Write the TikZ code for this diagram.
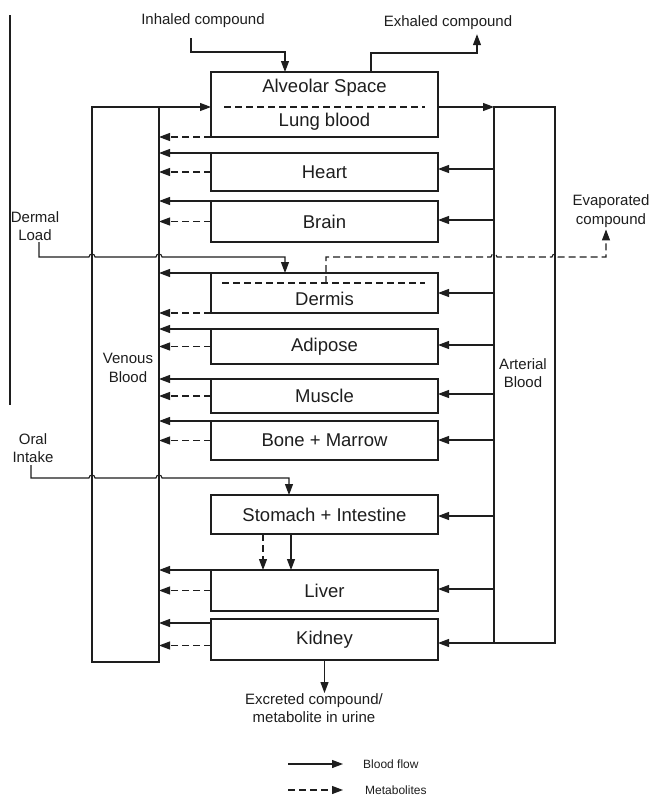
\documentclass[tikz,border=0pt]{standalone}
\usepackage{fontspec}
\setmainfont{Liberation Sans}
\usetikzlibrary{arrows.meta}
\begin{document}
\begin{tikzpicture}[x=1pt,y=-1pt,
  organ/.style={draw=ink, line width=1.1pt, rectangle, inner sep=0pt, outer sep=0pt, minimum width=227pt},
  blood/.style={draw=ink, line width=1.1pt, rectangle, inner sep=0pt, outer sep=0pt},
  otext/.style={font=\fontsize{18.5}{21}\selectfont, inner sep=0pt, text=ink},
  lbl/.style={font=\fontsize{15}{18.5}\selectfont, align=center, inner sep=0pt, text=ink},
  leg/.style={font=\fontsize{12}{14}\selectfont, inner sep=0pt, anchor=west, text=ink},
  ln/.style={draw=ink, line width=1.1pt},
  flow/.style={ln, -{Triangle[length=11pt,width=8pt]}},
  metab/.style={flow, dash pattern=on 7pt off 4pt},
  dashln/.style={ln, dash pattern=on 7pt off 4pt},
]
\definecolor{ink}{HTML}{1E1E1E}
\useasboundingbox (0,0) rectangle (655,798);
\fill[white] (0,0) rectangle (655,798);

% stray vertical line at left
\draw[ln] (10,15) -- (10,405);

% blood compartments
\node[blood, minimum width=67pt, minimum height=555pt] (venous) at (125.5,384.5) {};
\node[blood, minimum width=61pt, minimum height=536pt] (arterial) at (524.5,375) {};
\node[lbl] (vtxt) at (128,368) {Venous\\Blood};
\node[lbl] (atxt) at (523,373) {Arterial\\Blood};

% organs
\node[organ, minimum height=65pt] (alv) at (324.5,104.5) {};
\node[otext] (alvtxt) at (324.5,88) {Alveolar Space};
\node[otext] (lungtxt) at (324.5,122) {Lung blood};
\draw[dashln] (224,107) -- (425,107);

\node[organ, minimum height=38pt] (heart) at (324.5,172) {};
\node[otext] at (heart) {Heart};
\node[organ, minimum height=41pt] (brain) at (324.5,221.5) {};
\node[otext] at (brain) {Brain};
\node[organ, minimum height=40pt] (dermis) at (324.5,293) {};
\node[otext] (dermtxt) at (324.5,299) {Dermis};
\draw[dashln] (222,283) -- (425,283);
\node[organ, minimum height=35pt] (adipose) at (324.5,346.5) {};
\node[otext] at (adipose) {Adipose};
\node[organ, minimum height=34pt] (muscle) at (324.5,396) {};
\node[otext] at (muscle) {Muscle};
\node[organ, minimum height=39pt] (bone) at (324.5,440.5) {};
\node[otext] at (bone) {Bone + Marrow};
\node[organ, minimum height=39pt] (stomach) at (324.5,514.5) {};
\node[otext] at (stomach) {Stomach + Intestine};
\node[organ, minimum height=41pt] (liver) at (324.5,590.5) {};
\node[otext] at (liver) {Liver};
\node[organ, minimum height=41pt] (kidney) at (324.5,639.5) {};
\node[otext] at (kidney) {Kidney};

% external labels
\node[lbl] (inhaled) at (203,21) {Inhaled compound};
\node[lbl] (exhaled) at (448,23) {Exhaled compound};
\node[lbl] (dermal) at (35,226) {Dermal\\Load};
\node[lbl] (evap) at (611,211) {Evaporated\\compound};
\node[lbl] (oral) at (33,448) {Oral\\Intake};
\node[lbl] (excr) at (314,708) {Excreted compound/\\metabolite in urine};

% lung in/out
\draw[flow] (venous.north east) -- (venous.north east -| alv.west);
\draw[flow] (alv.east |- arterial.north west) -- (arterial.north west);
\draw[metab] (alv.south west) -- (venous.east |- alv.south west);

% inhaled / exhaled
\coordinate (inhstart) at (191,38);
\draw[flow] (inhstart) |- (285,52) -- (285,72);
\draw[flow] (371,72) |- (477,53) -- ([xshift=29pt,yshift=-4pt]exhaled.south);

% organ outflow to venous
\foreach \o in {heart,brain,adipose,muscle,bone,liver}{
  \draw[flow] (\o.north west) -- (venous.east |- \o.north west);
  \draw[metab] (\o.west) -- (venous.east |- \o.west);
}
\draw[flow] (dermis.north west) -- (venous.east |- dermis.north west);
\draw[metab] (dermis.south west) -- (venous.east |- dermis.south west);
\coordinate (kidA) at ([yshift=-4pt]kidney.north west);
\coordinate (kidB) at ([yshift=-6pt]kidney.west);
\draw[flow] (kidA) -- (venous.east |- kidA);
\draw[metab] (kidB) -- (venous.east |- kidB);

% arterial supply
\foreach \o/\yy in {heart/169,brain/220,dermis/293,adipose/345,muscle/394,bone/440,stomach/516,liver/589}{
  \draw[flow] (arterial.west |- 0,\yy) -- (alv.east |- 0,\yy);
}
\draw[flow] (arterial.south west) -- (arterial.south west -| kidney.east);

% stomach to liver
\draw[metab] ([xshift=-61.5pt]stomach.south) -- ([xshift=-61.5pt]liver.north);
\draw[flow] ([xshift=-33.5pt]stomach.south) -- ([xshift=-33.5pt]liver.north);

% kidney excretion
\draw[flow] (kidney.south) -- (kidney.south |- excr.north);

% dermal load
\draw[flow] (39,242) -- (39,257) -- (89,257) arc[start angle=180,end angle=0,radius=3pt]
  -- (156,257) arc[start angle=180,end angle=0,radius=3pt] -- (285,257) -- (285,273);
% oral intake
\draw[flow] (31,465) -- (31,478) -- (89,478) arc[start angle=180,end angle=0,radius=3pt]
  -- (156,478) arc[start angle=180,end angle=0,radius=3pt] -- (289,478) -- (289,495);
% evaporated
\draw[metab] (326,283) -- (326,257) -- (491,257) arc[start angle=180,end angle=0,radius=3pt]
  -- (552,257) arc[start angle=180,end angle=0,radius=3pt] -- (606,257) -- ([xshift=-5pt,yshift=-2pt]evap.south);

% legend
\node[leg] (lflow) at (363,764) {Blood flow};
\node[leg] (lmeta) at (365,790) {Metabolites};
\coordinate (lf0) at (288,764);
\coordinate (lm0) at (288,790);
\draw[flow] (lf0) -- ([xshift=-20pt]lflow.west);
\draw[metab] (lm0) -- ([xshift=-22pt]lmeta.west);
\end{tikzpicture}
\end{document}
